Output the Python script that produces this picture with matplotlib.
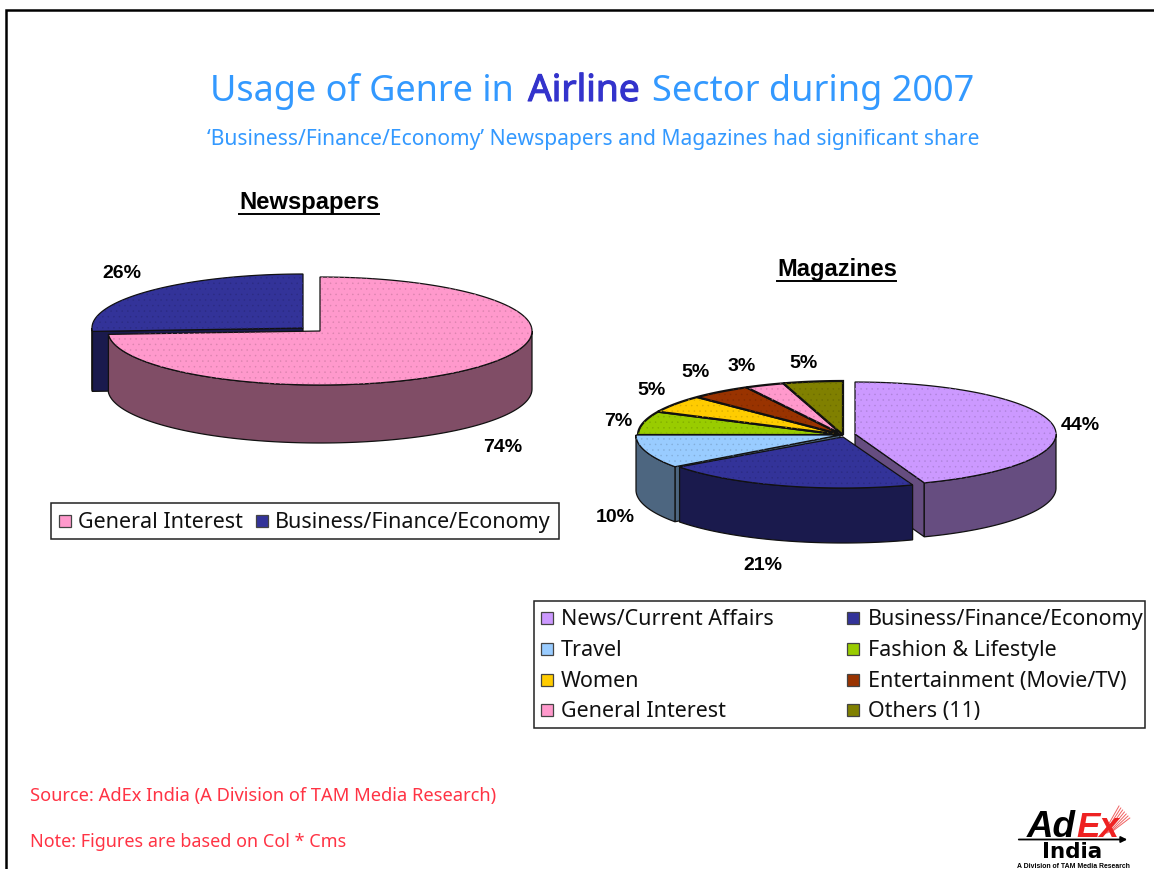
import numpy as np
import matplotlib
matplotlib.use("Agg")
import matplotlib.pyplot as plt
import matplotlib.patheffects as pe
from matplotlib.patches import Polygon, Rectangle

# ---- data ----
news_categories = ["General Interest", "Business/Finance/Economy"]
news_values = [74, 26]
mag_categories = ["News/Current Affairs", "Business/Finance/Economy", "Travel",
                  "Fashion & Lifestyle", "Women", "Entertainment (Movie/TV)",
                  "General Interest", "Others (11)"]
mag_values = [44.4, 20.6, 10, 7.1, 5.3, 4.8, 3.1, 4.7]

# ---- styles ----
PINK, NAVY = "#FF99CC", "#333399"
news_colors = [PINK, NAVY]
mag_colors = ["#CC99FF", NAVY, "#99CCFF", "#99CC00", "#FFCC00", "#993300", PINK, "#808000"]
FONT = "Noto Sans"
BOLD = "Liberation Sans"
BLUE_T, RED_T = "#3399FF", "#FF3344"

plt.rcParams["font.family"] = [FONT, "DejaVu Sans"]
plt.rcParams["hatch.linewidth"] = 0.3
fig = plt.figure(figsize=(11.54, 8.69), dpi=100)
ax = fig.add_axes([0, 0, 1, 1])
ax.set_xlim(0, 1154)
ax.set_ylim(869, 0)
ax.axis("off")
rend = fig.canvas.get_renderer()


def fit(s, x0, x1, y, color="black", family=FONT, weight="normal", style="normal", z=10):
    t = ax.text(x0, y, s, color=color, fontsize=10, family=family, fontweight=weight,
                fontstyle=style, va="baseline", ha="left", zorder=z)
    w = t.get_window_extent(rend).width
    t.set_fontsize(10 * (x1 - x0) / w)
    return t


def mix(c, f):
    r = np.array(matplotlib.colors.to_rgb(c))
    return tuple(r * f)


def ell(cx, cy, rx, ry, deg):
    a = np.radians(deg)
    return np.column_stack([cx + rx * np.sin(a), cy - ry * np.cos(a)])


def slice3d(cx, cy, rx, ry, d, a0, a1, col, z, face=None, lw=0.9):
    side = mix(col, 0.5)
    if face is not None:
        p = ell(cx, cy, rx, ry, np.array([face]))[0]
        ax.add_patch(Polygon([(cx, cy), p, (p[0], p[1] + d), (cx, cy + d)], fc=side,
                             ec="#111111", lw=0.9, zorder=z))
    lo, hi = max(a0, 90), min(a1, 270)
    if hi > lo:
        arc = ell(cx, cy, rx, ry, np.linspace(lo, hi, 120))
        low = arc[::-1] + [0, d]
        ax.add_patch(Polygon(np.vstack([arc, low]), fc=side, ec="#111111", lw=0.9, zorder=z))
    arc = ell(cx, cy, rx, ry, np.linspace(a0, a1, 240))
    pts = np.vstack([[(cx, cy)], arc])
    ax.add_patch(Polygon(pts, fc=col, ec="#111111", lw=lw, zorder=z + 0.1))
    ax.add_patch(Polygon(pts, fill=False, ec=mix(col, 0.85), lw=0, hatch="...", zorder=z + 0.2))


def angles(vals):
    c = np.cumsum(vals) / np.sum(vals) * 360
    return np.r_[0, c[:-1]], c


# ---- frame ----
ax.plot([5.5, 5.5, 1154], [869, 9.5, 9.5], color="black", lw=1.8, solid_joinstyle="miter", zorder=1)

# ---- titles ----
fit("Usage of Genre in", 210, 514, 101, BLUE_T)
air = fit("Airline", 528, 640, 101, "#3333CC")
air.set_path_effects([pe.withStroke(linewidth=0.8, foreground="#3333CC")])
fit("Sector during 2007", 652, 974, 101, BLUE_T)
fit("\u2018Business/Finance/Economy\u2019 Newspapers and Magazines had significant share",
    207, 979, 145, BLUE_T)
fit("Newspapers", 239, 379, 209, family=BOLD, weight="bold")
ax.plot([239, 379], [213.5, 213.5], color="black", lw=1.4)
fit("Magazines", 777, 896, 276, family=BOLD, weight="bold")
ax.plot([777, 896], [280.5, 280.5], color="black", lw=1.4)

LABEL_PT = 14.0


def pct(v, xc, y):
    ax.text(xc, y, f"{round(v)}%", fontsize=LABEL_PT, family=BOLD, fontweight="bold",
            color="black", ha="center", va="baseline", zorder=10)


# ---- newspapers pie ----
a0, a1 = angles(news_values)
slice3d(303, 328, 211, 54, 60, a0[1], a1[1], news_colors[1], 3, face=a0[1])
slice3d(320, 331, 212, 54, 58, a0[0], a1[0], news_colors[0], 4)

news_lab_x = [503, 122]
news_lab_y = [452, 278]
for v, x, y in zip(news_values, news_lab_x, news_lab_y):
    pct(v, x, y)

# ---- magazines pie ----
a0, a1 = angles(mag_values)
for i in range(3, 8):
    slice3d(843, 435, 205, 54, 55, a0[i], a1[i], mag_colors[i], 3 + 0.5 * (i - 3), lw=1.6)
slice3d(840, 435, 204, 54, 55, a0[2], a1[2], mag_colors[2], 6, face=a0[2])
slice3d(855, 434, 201, 52, 54, a0[0], a1[0], mag_colors[0], 6.5, face=a1[0])
slice3d(843, 437, 202, 51, 55, a0[1], a1[1], mag_colors[1], 7)

mag_lab_x = [1080, 763, 615, 618, 652, 696, 742, 804]
mag_lab_y = [430, 570, 522, 426, 395, 377, 371, 368]
for v, x, y in zip(mag_values, mag_lab_x, mag_lab_y):
    pct(v, x, y)


# ---- legends ----
def swatch(x, yc, col):
    ax.add_patch(Rectangle((x, yc - 6), 12, 12, fc=col, ec="#444444", lw=0.9, zorder=9))


ax.add_patch(Rectangle((51, 503), 508, 36, fc="white", ec="#222222", lw=1.1, zorder=8))
swatch(59, 521, news_colors[0])
swatch(256, 521, news_colors[1])
f1 = fit(news_categories[1], 275, 550, 528, "#111111")
f0 = fit(news_categories[0], 78, 243, 528, "#111111")

ax.add_patch(Rectangle((534, 601), 611, 127, fc="white", ec="#222222", lw=1.1, zorder=8))
leg_rows = [618, 649, 680, 710]
legend_pt = f1.get_fontsize()
for i, (c, col) in enumerate(zip(mag_categories, mag_colors)):
    yc = leg_rows[i // 2]
    sx, tx = (541, 561) if i % 2 == 0 else (847, 868)
    swatch(sx, yc, col)
    ax.text(tx, yc + 7, c, color="#111111", fontsize=legend_pt, family=FONT,
            va="baseline", ha="left", zorder=10)

# ---- notes ----
fit("Source: AdEx India (A Division of TAM Media Research)", 30, 497, 801, RED_T)
fit("Note: Figures are based on Col * Cms", 30, 347, 847, RED_T)

# ---- logo ----
fit("Ad", 1027, 1076, 837, family=BOLD, weight="bold", style="italic")
fit("Ex", 1076, 1119, 837, "#EE2222", family=BOLD, weight="bold", style="italic")
for k in range(7):
    ax.plot([1103 + k * 1.5, 1119 + k * 1.8], [834 - k * 0.4, 806 + k * 2.0], color="#F06060", lw=0.7)
ax.annotate("", xy=(1130, 839.5), xytext=(1016, 839.5),
            arrowprops=dict(arrowstyle="-|>", color="black", lw=1.3, mutation_scale=9))
ax.text(1072, 857.5, "India", fontsize=15.5, family="DejaVu Sans", fontweight="bold",
        ha="center", va="baseline", color="black", zorder=10)
fit("A Division of TAM Media Research", 1017, 1130, 868.5, family=BOLD, weight="bold")

fig.savefig("out.png", dpi=100, facecolor="white")
